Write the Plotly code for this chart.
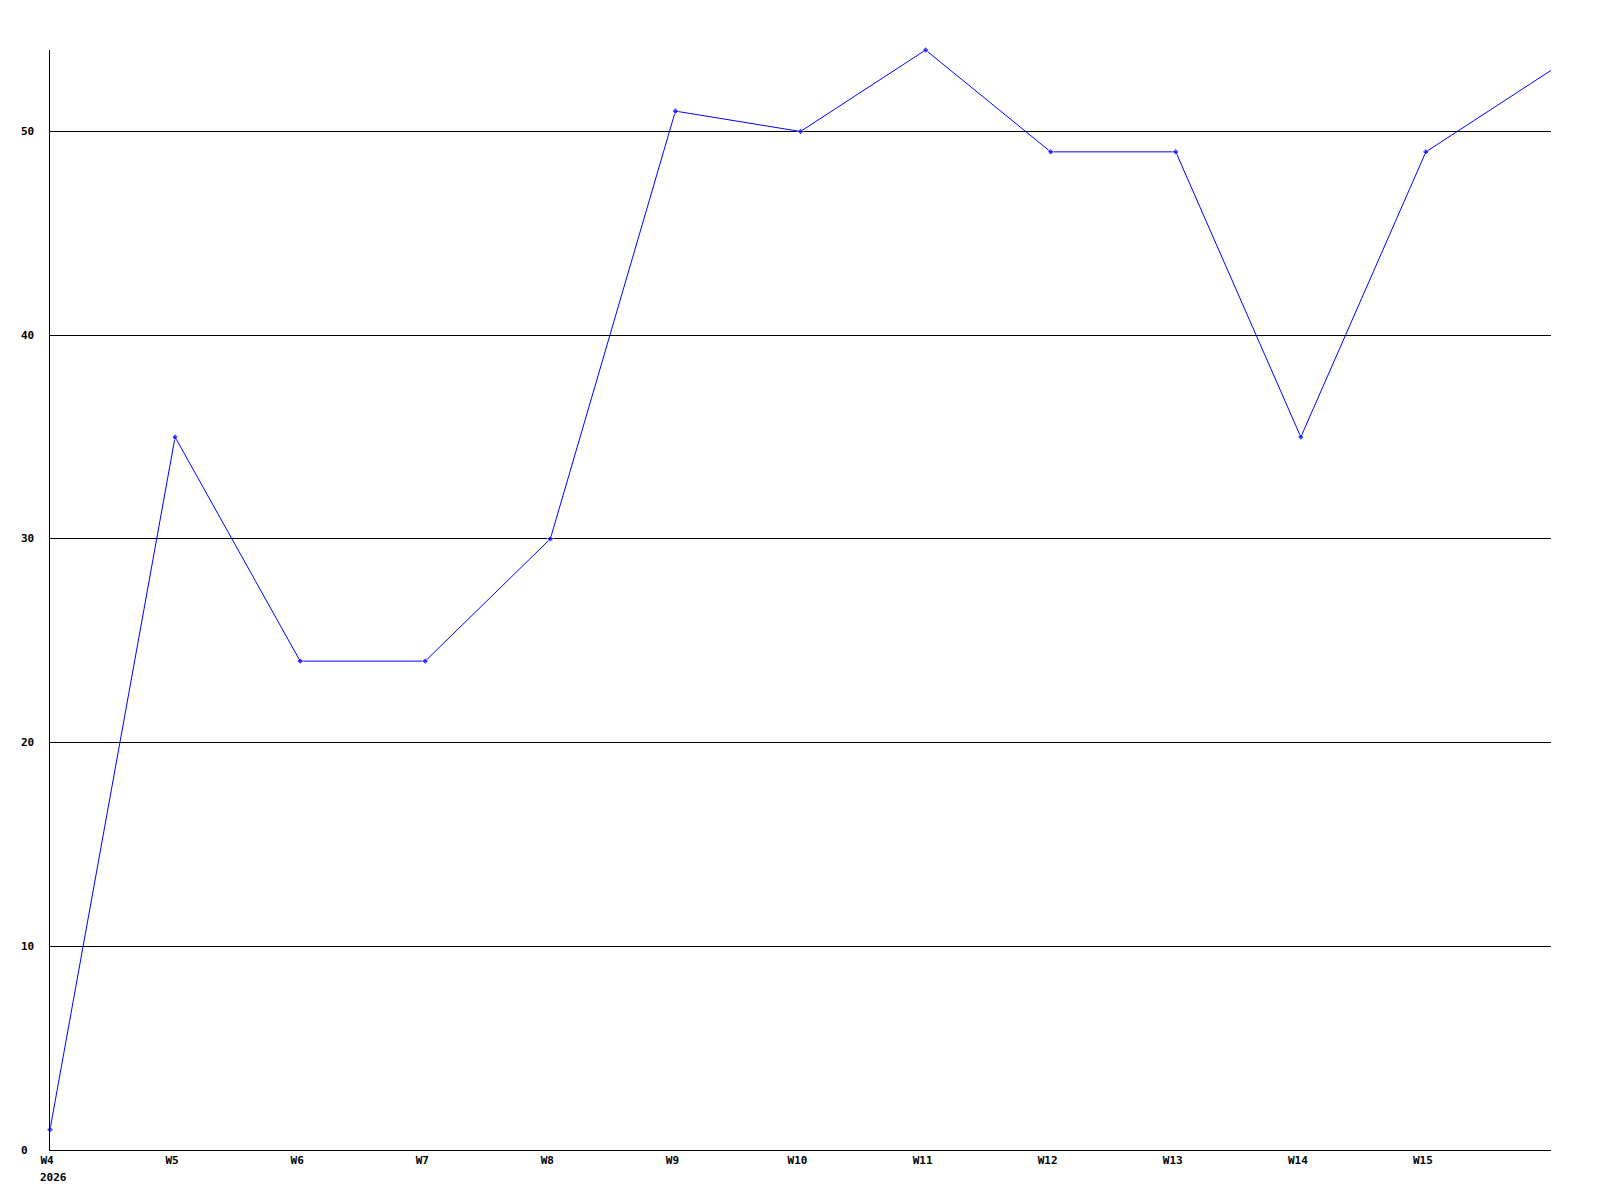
import plotly.graph_objects as go

weeks = ["W4", "W5", "W6", "W7", "W8", "W9", "W10", "W11", "W12", "W13", "W14", "W15", "W16"]
values = [1, 35, 24, 24, 30, 51, 50, 54, 49, 49, 35, 49, 53]
tick_labels = ["W4", "W5", "W6", "W7", "W8", "W9", "W10", "W11", "W12", "W13", "W14", "W15"]
y_ticks = [0, 10, 20, 30, 40, 50]
year_label = "2026"

FONT = dict(family="DejaVu Sans Mono", size=11, color="black", weight="bold")

fig = go.Figure()
fig.add_trace(go.Scatter(
    x=list(range(len(weeks))), y=values, mode="lines+markers",
    line=dict(color="#0000ff", width=1),
    marker=dict(symbol="diamond", size=[5] * (len(weeks) - 1) + [0], color="#0000ff"),
    cliponaxis=False, showlegend=False, hoverinfo="skip",
))

# page body has an 8px default margin; compensate so the plot area lands at 50..1551 x 50..1150
L, R, T, B = 42, 57, 42, 58
W, H = 1600, 1200
pw = W - L - R

annotations = []
for v in y_ticks:
    annotations.append(dict(
        x=-31 / pw, xref="paper", xanchor="left", y=v, yref="y", yanchor="middle",
        text=str(v), showarrow=False, font=FONT,
    ))
annotations.append(dict(
    x=0, xref="x", xanchor="left", xshift=-12, y=0, yref="paper", yanchor="middle", yshift=-27,
    text=year_label, showarrow=False, font=FONT,
))

fig.update_layout(
    width=W, height=H,
    margin=dict(l=L, r=R, t=T, b=B),
    paper_bgcolor="white", plot_bgcolor="white",
    font=FONT,
    annotations=annotations,
    xaxis=dict(
        range=[0, len(weeks) - 1],
        tickvals=list(range(len(tick_labels))), ticktext=tick_labels,
        showgrid=False, zeroline=False, showline=True, linecolor="black", linewidth=1,
        ticks="", tickfont=FONT, ticklabelshift=-3,
    ),
    yaxis=dict(
        range=[0, 54], tickvals=y_ticks, showticklabels=False,
        showgrid=True, gridcolor="black", gridwidth=1,
        zeroline=False, showline=True, linecolor="black", linewidth=1, ticks="",
    ),
)

fig.write_html("out.html")
